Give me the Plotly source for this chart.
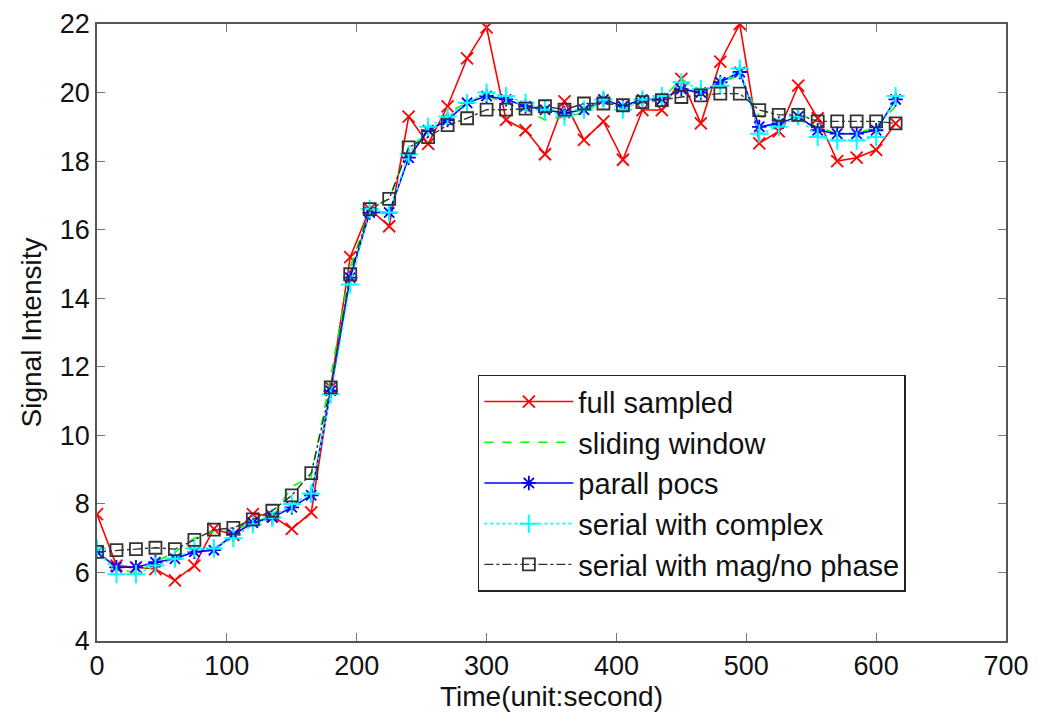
import plotly.graph_objects as go

time_s = list(range(0, 616, 15))

full_sampled = [7.7, 6.2, 6.15, 6.1, 5.77, 6.2, 7.27, 7.1, 7.7, 7.65, 7.27, 7.75,
                11.4, 15.2, 16.6, 16.1, 19.3, 18.5, 19.6, 21.0, 21.9, 19.2, 18.9, 18.2,
                19.74, 18.62, 19.16, 18.04, 19.49, 19.49, 20.4, 19.1, 20.9, 22.0, 18.52,
                18.87, 20.2, 19.25, 18.0, 18.1, 18.33, 19.1]
sliding_window = [6.6, 6.1, 6.0, 6.3, 6.6, 7.0, 7.2, 7.2, 7.5, 7.6, 8.5, 8.8,
                  11.7, 14.9, 16.6, 16.9, 18.4, 18.8, 19.4, 19.7, 19.9, 19.7, 19.5, 19.2,
                  19.3, 19.4, 19.8, 19.5, 19.7, 19.8, 20.4, 20.0, 20.3, 20.5, 19.3,
                  19.2, 19.2, 19.0, 18.8, 18.8, 19.0, 19.6]
parall_pocs = [6.6, 6.15, 6.15, 6.3, 6.4, 6.6, 6.65, 7.1, 7.45, 7.6, 7.9, 8.25,
               11.3, 14.6, 16.5, 16.5, 18.1, 18.9, 19.2, 19.7, 19.9, 19.8, 19.6, 19.5,
               19.4, 19.5, 19.8, 19.6, 19.8, 19.8, 20.1, 20.0, 20.3, 20.6, 19.0,
               19.1, 19.3, 18.9, 18.8, 18.8, 18.9, 19.8]
serial_complex = [6.7, 5.95, 5.95, 6.2, 6.4, 6.7, 6.7, 7.0, 7.4, 7.6, 8.0, 8.3,
                  11.2, 14.4, 16.6, 16.5, 18.2, 19.0, 19.3, 19.7, 20.0, 19.9, 19.7, 19.5,
                  19.3, 19.5, 19.8, 19.5, 19.8, 19.9, 20.3, 20.1, 20.2, 20.7, 18.8,
                  19.0, 19.3, 18.7, 18.6, 18.6, 18.7, 19.9]
serial_mag = [6.6, 6.65, 6.68, 6.72, 6.68, 6.95, 7.25, 7.3, 7.55, 7.8, 8.25, 8.9,
              11.4, 14.7, 16.6, 16.9, 18.4, 18.7, 19.05, 19.25, 19.5, 19.5, 19.53, 19.6,
              19.5, 19.68, 19.68, 19.63, 19.72, 19.78, 19.87, 19.92, 19.97, 19.97, 19.49,
              19.35, 19.35, 19.16, 19.16, 19.16, 19.16, 19.1]

x_ticks = [0, 100, 200, 300, 400, 500, 600, 700]
y_ticks = [4, 6, 8, 10, 12, 14, 16, 18, 20, 22]

font_family = "Liberation Sans, Arial, sans-serif"

fig = go.Figure()
fig.add_trace(go.Scatter(x=time_s, y=full_sampled, name="full sampled", mode="lines+markers",
                         line=dict(color="#ff0000", width=1.6),
                         marker=dict(symbol="x-thin-open", size=12, line=dict(color="#ff0000", width=1.8)),
                         legendgroup="a"))
fig.add_trace(go.Scatter(x=time_s, y=sliding_window, name="sliding window", mode="lines",
                         line=dict(color="#00ff00", width=1.6, dash="dash"), legendgroup="b"))
fig.add_trace(go.Scatter(x=time_s, y=parall_pocs, name="parall pocs", mode="lines+markers",
                         line=dict(color="#0000ff", width=1.6),
                         marker=dict(symbol="asterisk-open", size=12, line=dict(color="#0000ff", width=1.8)),
                         legendgroup="c"))
fig.add_trace(go.Scatter(x=time_s, y=serial_complex, name="serial with complex", mode="lines+markers",
                         line=dict(color="#00ffff", width=1.6, dash="dot"),
                         marker=dict(symbol="cross-thin-open", size=13, line=dict(color="#00ffff", width=2)),
                         legendgroup="d"))
fig.add_trace(go.Scatter(x=time_s, y=serial_mag, name="serial with mag/no phase", mode="lines+markers",
                         line=dict(color="#333333", width=1.4, dash="dashdot"),
                         marker=dict(symbol="square-open", size=12, line=dict(color="#000000", width=1.8)),
                         legendgroup="e"))

axis_common = dict(showline=True, linecolor="#555555", linewidth=1.5, mirror="ticks",
                   ticks="inside", ticklen=8, tickcolor="#777777", showgrid=False, zeroline=False,
                   ticklabeloverflow="allow", automargin=False,
                   tickfont=dict(family=font_family, size=27, color="#111111"))

fig.update_layout(
    width=1038, height=725,
    margin=dict(l=89, r=40, t=16, b=92),
    plot_bgcolor="white", paper_bgcolor="white",
    font=dict(family=font_family, color="#111111"),
    xaxis=dict(range=[0, 700], tickvals=x_ticks,
               title=dict(text="Time(unit:second)", font=dict(family=font_family, size=28), standoff=2),
               **axis_common),
    yaxis=dict(range=[4, 22], tickvals=y_ticks,
               title=dict(text="Signal Intensity", font=dict(family=font_family, size=28), standoff=10),
               **axis_common),
    legend=dict(x=0.419, y=0.4316, xanchor="left", yanchor="top",
                bgcolor="white", bordercolor="#222222", borderwidth=1.5,
                font=dict(family=font_family, size=29, color="#111111"),
                tracegroupgap=0, itemwidth=89),
    showlegend=True,
)

fig.write_html("out.html")
